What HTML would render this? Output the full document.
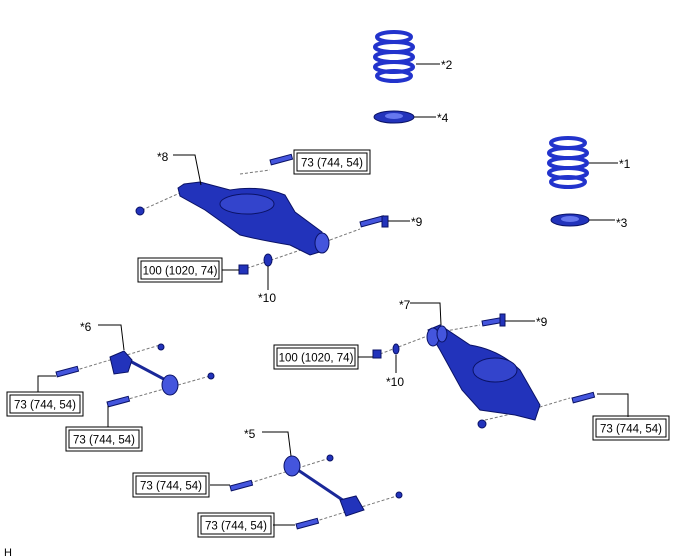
<!DOCTYPE html>
<html><head><meta charset="utf-8"><style>
html,body{margin:0;padding:0;background:#fff;}
svg{display:block;font-family:"Liberation Sans",sans-serif;}
.t{font-size:12px;fill:#000;}
.b{fill:none;stroke:#000;stroke-width:1;}
.l{fill:none;stroke:#000;stroke-width:1;}
.d{fill:none;stroke:#777;stroke-width:1;stroke-dasharray:3,2;}
.p{fill:#2233bb;stroke:#0a1266;stroke-width:1;}
.q{fill:#4455dd;stroke:#0a1266;stroke-width:1;}
.c{fill:none;stroke:#2233cc;stroke-width:4;}
</style></head><body>
<svg width="688" height="560" viewBox="0 0 688 560" xmlns="http://www.w3.org/2000/svg">
<defs>
<g id="box73"><rect x="0" y="0" width="76" height="24" class="b"/><rect x="3" y="3" width="70" height="18" class="b"/><text x="38" y="16.5" text-anchor="middle" class="t" style="font-size:11.5px">73 (744, 54)</text></g>
<g id="box100"><rect x="0" y="0" width="84" height="24" class="b"/><rect x="3" y="3" width="78" height="18" class="b"/><text x="42" y="16.5" text-anchor="middle" class="t" style="font-size:11.5px">100 (1020, 74)</text></g>
</defs>

<!-- spring 2 -->
<g>
<ellipse cx="394" cy="37" rx="17" ry="5" class="c"/>
<ellipse cx="394" cy="47" rx="19" ry="5" class="c"/>
<ellipse cx="394" cy="57" rx="19" ry="5" class="c"/>
<ellipse cx="394" cy="67" rx="19" ry="5" class="c"/>
<ellipse cx="394" cy="76" rx="17" ry="5" class="c"/>
<ellipse cx="394" cy="117" rx="20" ry="6" class="p"/><ellipse cx="394" cy="116" rx="9" ry="3" fill="#6677ee"/>
</g>
<!-- spring 1 -->
<g>
<ellipse cx="568" cy="143" rx="17" ry="5" class="c"/>
<ellipse cx="568" cy="153" rx="19" ry="5" class="c"/>
<ellipse cx="568" cy="163" rx="19" ry="5" class="c"/>
<ellipse cx="568" cy="173" rx="19" ry="5" class="c"/>
<ellipse cx="568" cy="182" rx="17" ry="5" class="c"/>
<ellipse cx="570" cy="220" rx="19" ry="6" class="p"/><ellipse cx="570" cy="219" rx="9" ry="3" fill="#6677ee"/>
</g>
<line x1="416" y1="64" x2="440" y2="64" class="l"/><text x="441" y="69" class="t">*2</text>
<line x1="414" y1="117" x2="436" y2="117" class="l"/><text x="437" y="122" class="t">*4</text>
<line x1="589" y1="163" x2="618" y2="163" class="l"/><text x="619" y="168" class="t">*1</text>
<line x1="589" y1="220" x2="615" y2="220" class="l"/><text x="616" y="227" class="t">*3</text>

<!-- arm 8 -->
<line x1="142" y1="210" x2="182" y2="192" class="d"/>
<line x1="240" y1="174" x2="270" y2="170" class="d"/>
<line x1="242" y1="270" x2="330" y2="240" class="d"/>
<line x1="330" y1="240" x2="360" y2="229" class="d"/>
<path d="M178 188 L184 184 L200 182 L230 190 Q260 185 285 195 L295 212 L322 232 L326 250 L310 255 L290 245 Q260 240 240 235 L205 210 L180 196 Z" class="p"/>
<ellipse cx="247" cy="204" rx="27" ry="10" fill="#3344cc" stroke="#0a1266"/>
<ellipse cx="322" cy="243" rx="7" ry="10" class="q"/>
<rect x="270" y="160" width="22" height="5" transform="rotate(-15 270 160)" class="q"/>
<rect x="360" y="222" width="24" height="5" transform="rotate(-15 360 222)" class="q"/>
<rect x="382" y="216" width="6" height="11" class="p"/>
<circle cx="140" cy="211" r="4" class="p"/>
<ellipse cx="268" cy="260" rx="4" ry="6" class="p"/>
<rect x="239" y="265" width="9" height="9" class="p"/>
<polyline points="173,155 195,155 201,185" class="l"/><text x="157" y="161" class="t">*8</text>
<use href="#box73" x="294" y="150"/>
<line x1="388" y1="221" x2="410" y2="221" class="l"/><text x="411" y="226" class="t">*9</text>
<line x1="268" y1="266" x2="268" y2="290" class="l"/><text x="258" y="302" class="t">*10</text>
<use href="#box100" x="138" y="258"/>
<line x1="222" y1="270" x2="239" y2="270" class="l"/>

<!-- arm 7 -->
<line x1="380" y1="354" x2="430" y2="335" class="d"/>
<line x1="440" y1="332" x2="480" y2="325" class="d"/>
<line x1="530" y1="410" x2="570" y2="398" class="d"/>
<line x1="485" y1="420" x2="520" y2="412" class="d"/>
<path d="M428 330 L440 325 L470 345 Q500 350 520 370 L540 405 L535 420 L515 415 L480 410 L462 390 L440 350 Z" class="p"/>
<ellipse cx="495" cy="370" rx="22" ry="12" fill="#3344cc" stroke="#0a1266"/>
<ellipse cx="433" cy="337" rx="6" ry="9" class="q"/>
<ellipse cx="442" cy="334" rx="5" ry="8" class="q"/>
<rect x="482" y="321" width="20" height="5" transform="rotate(-10 482 321)" class="q"/>
<rect x="500" y="314" width="5" height="12" class="p"/>
<rect x="572" y="398" width="22" height="5" transform="rotate(-15 572 398)" class="q"/>
<ellipse cx="396" cy="349" rx="3" ry="5" class="p"/>
<rect x="373" y="350" width="8" height="8" class="p"/>
<circle cx="482" cy="424" r="4" class="p"/>
<polyline points="410,303 440,303 441,325" class="l"/><text x="399" y="309" class="t">*7</text>
<line x1="505" y1="321" x2="535" y2="321" class="l"/><text x="536" y="326" class="t">*9</text>
<line x1="396" y1="355" x2="396" y2="373" class="l"/><text x="386" y="386" class="t">*10</text>
<use href="#box100" x="274" y="345"/>
<line x1="358" y1="357" x2="373" y2="357" class="l"/>
<polyline points="597,394 628,394 628,417" class="l"/>
<use href="#box73" x="593" y="416"/>

<!-- link 6 -->
<line x1="70" y1="372" x2="160" y2="345" class="d"/>
<line x1="125" y1="400" x2="210" y2="376" class="d"/>
<line x1="128" y1="360" x2="175" y2="385" stroke="#1a2899" stroke-width="3"/>
<path d="M110 357 L124 351 L132 360 L128 372 L114 374 Z" class="p"/>
<ellipse cx="170" cy="385" rx="8" ry="10" class="q"/>
<circle cx="161" cy="347" r="3" class="p"/><circle cx="211" cy="376" r="3" class="p"/>
<rect x="56" y="372" width="22" height="5" transform="rotate(-15 56 372)" class="q"/>
<rect x="107" y="402" width="22" height="5" transform="rotate(-15 107 402)" class="q"/>
<polyline points="98,325 121,325 124,350" class="l"/><text x="80" y="331" class="t">*6</text>
<polyline points="56,376 38,376 38,392" class="l"/>
<use href="#box73" x="7" y="392"/>
<line x1="108" y1="406" x2="108" y2="427" class="l"/>
<use href="#box73" x="66" y="427"/>

<!-- link 5 -->
<line x1="250" y1="483" x2="330" y2="458" class="d"/>
<line x1="310" y1="523" x2="400" y2="495" class="d"/>
<line x1="292" y1="466" x2="350" y2="505" stroke="#1a2899" stroke-width="3"/>
<ellipse cx="292" cy="466" rx="8" ry="10" class="q"/>
<path d="M340 500 L356 496 L364 510 L346 516 Z" class="p"/>
<circle cx="330" cy="458" r="3" class="p"/><circle cx="399" cy="495" r="3" class="p"/>
<rect x="230" y="486" width="22" height="5" transform="rotate(-15 230 486)" class="q"/>
<rect x="296" y="524" width="22" height="5" transform="rotate(-15 296 524)" class="q"/>
<polyline points="262,432 288,432 291,456" class="l"/><text x="244" y="438" class="t">*5</text>
<line x1="210" y1="485" x2="230" y2="485" class="l"/>
<use href="#box73" x="133" y="473"/>
<line x1="273" y1="525" x2="295" y2="525" class="l"/>
<use href="#box73" x="198" y="513"/>

<text x="4" y="556" class="t" style="font-size:11px">H</text>
</svg>
</body></html>
